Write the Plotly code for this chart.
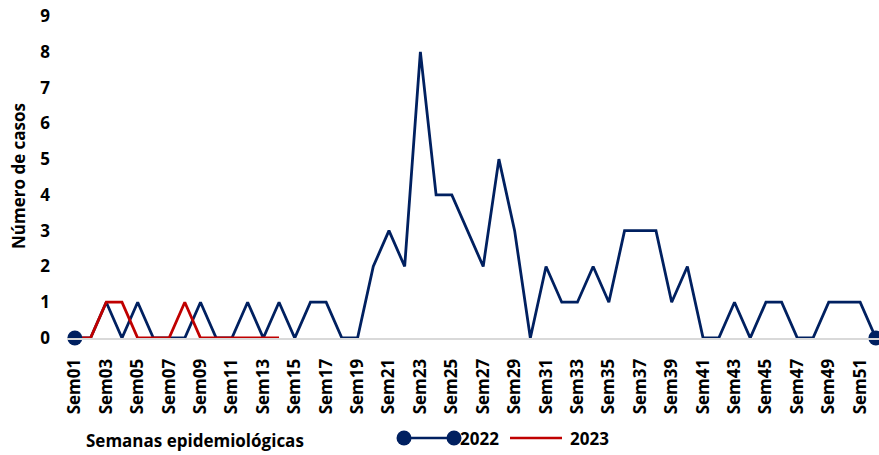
import plotly.graph_objects as go

weeks = ["Sem%02d" % i for i in range(1, 53)]
casos_2022 = [0, 0, 1, 0, 1, 0, 0, 0, 1, 0, 0, 1, 0, 1, 0, 1, 1, 0, 0, 2,
              3, 2, 8, 4, 4, 3, 2, 5, 3, 0, 2, 1, 1, 2, 1, 3, 3, 3, 1, 2,
              0, 0, 1, 0, 1, 1, 0, 0, 1, 1, 1, 0]
casos_2023 = [0, 0, 1, 1, 0, 0, 0, 1, 0, 0, 0, 0, 0, 0]
y_ticks = list(range(0, 10))

BLUE = "#002060"
RED = "#C00000"
FONT = "Open Sans"

L, T, B = 67, 16, 117
PW, PH = 879 - L, 455 - T - B


def px(x):
    return (x - L) / PW


def py(y):
    return (455 - B - y) / PH


fig = go.Figure()
fig.add_trace(go.Scatter(x=weeks, y=casos_2022, mode="lines", name="2022",
                         line=dict(color=BLUE, width=2.8)))
fig.add_trace(go.Scatter(x=weeks[:len(casos_2023)], y=casos_2023, mode="lines", name="2023",
                         line=dict(color=RED, width=2.8)))
# markers only on first and last week, like the original
fig.add_trace(go.Scatter(x=[weeks[0], weeks[-1]], y=[casos_2022[0], casos_2022[-1]],
                         mode="markers", marker=dict(color=BLUE, size=15, line=dict(width=0)),
                         cliponaxis=False, showlegend=False))

# manual legend (marker at both ends of the 2022 sample)
ly = py(438)
shapes = [
    dict(type="line", xref="paper", yref="paper", x0=px(404), x1=px(454),
         y0=ly, y1=ly, line=dict(color=BLUE, width=2.5)),
    dict(type="line", xref="paper", yref="paper", x0=px(510), x1=px(562),
         y0=ly, y1=ly, line=dict(color=RED, width=2.5)),
]
for cx in (404, 454):
    shapes.append(dict(type="circle", xref="paper", yref="paper", xsizemode="pixel", ysizemode="pixel",
                       xanchor=px(cx), yanchor=ly, x0=-7.5, x1=7.5, y0=-7.5, y1=7.5,
                       fillcolor=BLUE, line=dict(color=BLUE, width=0)))

annotations = [
    dict(text="<b>2022</b>", xref="paper", yref="paper", x=px(458), y=ly, xanchor="left",
         yanchor="middle", showarrow=False, font=dict(family=FONT, size=17, color="#000000")),
    dict(text="<b>2023</b>", xref="paper", yref="paper", x=px(568), y=ly, xanchor="left",
         yanchor="middle", showarrow=False, font=dict(family=FONT, size=17, color="#000000")),
    dict(text="<b>Semanas epidemiológicas</b>", xref="paper", yref="paper", x=px(84),
         y=py(440), xanchor="left", yanchor="middle", showarrow=False,
         font=dict(family=FONT, size=17, color="#000000")),
    dict(text="<b>Número de casos</b>", xref="paper", yref="paper", x=px(18), y=py(176),
         xanchor="center", yanchor="middle", showarrow=False, textangle=-90,
         font=dict(family=FONT, size=17, color="#000000")),
]

fig.update_layout(
    width=879, height=455,
    margin=dict(l=L, r=0, t=T, b=B),
    paper_bgcolor="white", plot_bgcolor="white",
    showlegend=False,
    font=dict(family=FONT, color="#000000"),
    shapes=shapes, annotations=annotations,
    xaxis=dict(type="category", categoryorder="array", categoryarray=weeks,
               range=[-0.5, 51.2], tickmode="array", tickvals=weeks[::2],
               ticktext=["<b>%s</b>" % w for w in weeks[::2]], tickangle=-90,
               tickfont=dict(family=FONT, size=17), showgrid=False, showline=True,
               linecolor="#d9d9d9", linewidth=2, ticks="", zeroline=False,
               automargin=False, ticklabelstandoff=12),
    yaxis=dict(range=[0, 9], tickmode="array", tickvals=y_ticks,
               ticktext=["<b>%d</b>" % v for v in y_ticks], tickfont=dict(family=FONT, size=17),
               showgrid=False, showline=False, zeroline=False, ticks="",
               automargin=False, ticklabelstandoff=16),
)

fig.write_html("out.html", config={"displayModeBar": False},
               post_script="document.body.style.margin='0px';")
